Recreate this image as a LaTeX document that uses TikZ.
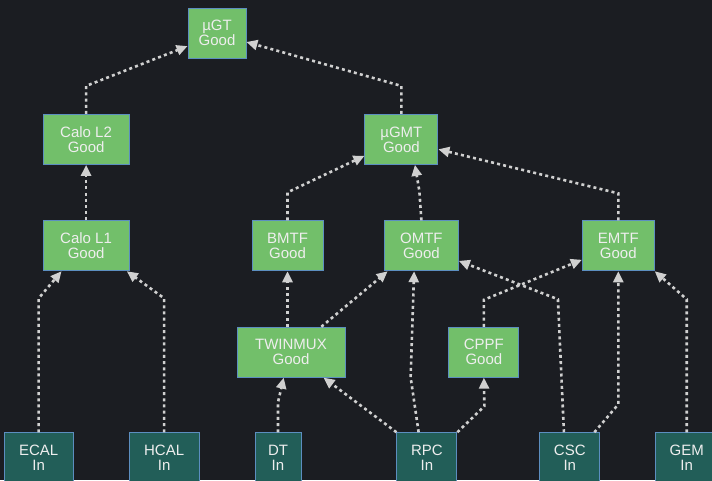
\documentclass[tikz,border=0pt]{standalone}
\usepackage{fontspec}
\setmainfont{Liberation Sans}
\usepackage{xcolor}
\usepackage{tikz}
\usetikzlibrary{arrows.meta,positioning}
\definecolor{Backdrop}{RGB}{27,29,34}
\definecolor{GoodFill}{RGB}{114,191,106}
\definecolor{InFill}{RGB}{34,94,88}
\definecolor{Border}{RGB}{92,142,192}
\definecolor{Ink}{RGB}{238,238,238}
\definecolor{Wire}{RGB}{208,208,208}
\tikzset{
  statebox/.style={draw=Border,line width=0.9pt,minimum height=50pt,inner xsep=0pt,inner ysep=0pt,align=center,text=Ink,font=\fontsize{15pt}{15pt}\selectfont},
  goodbox/.style={statebox,fill=GoodFill},
  inbox/.style={statebox,fill=InFill},
  link/.style={-{Triangle[length=11pt,width=10pt]},line width=2.6pt,draw=Wire,dash pattern=on 3pt off 3.2pt}
}
\begin{document}
\begin{tikzpicture}[node distance=55.5pt and 55pt]
\fill[Backdrop] (-217pt,33pt) rectangle (495pt,-447pt);
\useasboundingbox (-217pt,33pt) rectangle (495pt,-447pt);
% trigger chain
\node[goodbox,minimum width=58pt] (mugt) {µGT\\Good};
\node[goodbox,minimum width=86pt,below left=55.5pt and 58pt of mugt] (calol2) {Calo L2\\Good};
\node[goodbox,minimum width=73pt,below right=55.5pt and 118pt of mugt] (mugmt) {µGMT\\Good};
\node[goodbox,minimum width=86pt,below=of calol2] (calol1) {Calo L1\\Good};
\node[goodbox,minimum width=71pt,below left=55.5pt and 41pt of mugmt] (bmtf) {BMTF\\Good};
\node[goodbox,minimum width=74pt,below=of mugmt,xshift=20pt] (omtf) {OMTF\\Good};
\node[goodbox,minimum width=72pt,right=123pt of omtf] (emtf) {EMTF\\Good};
\node[goodbox,minimum width=108pt,below=of bmtf,xshift=3.5pt] (twinmux) {TWINMUX\\Good};
\node[goodbox,minimum width=70pt,right=103pt of twinmux] (cppf) {CPPF\\Good};
% inputs
\node[inbox,minimum width=69pt,below left=161pt and -31pt of calol1] (ecal) {ECAL\\In};
\node[inbox,minimum width=70pt,right=of ecal] (hcal) {HCAL\\In};
\node[inbox,minimum width=46pt,right=of hcal] (dt) {DT\\In};
\node[inbox,minimum width=60pt,right=95pt of dt] (rpc) {RPC\\In};
\node[inbox,minimum width=60pt,right=82pt of rpc] (csc) {CSC\\In};
\node[inbox,minimum width=62pt,right=of csc] (gem) {GEM\\In};
% links
\draw[link] (calol2.north) -- ++(0,28pt) -- (mugt.204);
\draw[link] (mugmt.north) -- ++(0,28pt) -- (mugt.343);
\draw[link] (calol1.north) -- (calol2.south);
\draw[link] (bmtf.north) -- ++(0,28pt) -- (mugmt.204);
\draw[link] (omtf.north) -- ++(-2pt,29pt) -- (mugmt.298);
\draw[link] (emtf.north) -- ++(0,27pt) -- (mugmt.345);
\draw[link] (ecal.north) -- ++(0,134pt) -- (calol1.226);
\draw[link] (hcal.north) -- ++(0,134pt) -- (calol1.328);
\draw[link] (twinmux.north -| bmtf.south) -- (bmtf.south);
\draw[link] (twinmux.40) -- (omtf.217);
\draw[link] (dt.north) -- ++(0,30pt) -- (twinmux.254);
\draw[link] (rpc.north west) -- (twinmux.322);
\draw[link] (rpc.108) -- ++(-8pt,55pt) -- (omtf.254);
\draw[link] (rpc.north east) -- ++(27pt,26pt) -- (cppf.south);
\draw[link] (cppf.north) -- ++(0,27pt) -- (emtf.201);
\draw[link] (csc.103) -- ++(-6pt,133pt) -- (omtf.338);
\draw[link] (csc.46) -- ++(24pt,28pt) -- (emtf.south);
\draw[link] (gem.north) -- ++(0,133pt) -- (emtf.south east);
\end{tikzpicture}
\end{document}
